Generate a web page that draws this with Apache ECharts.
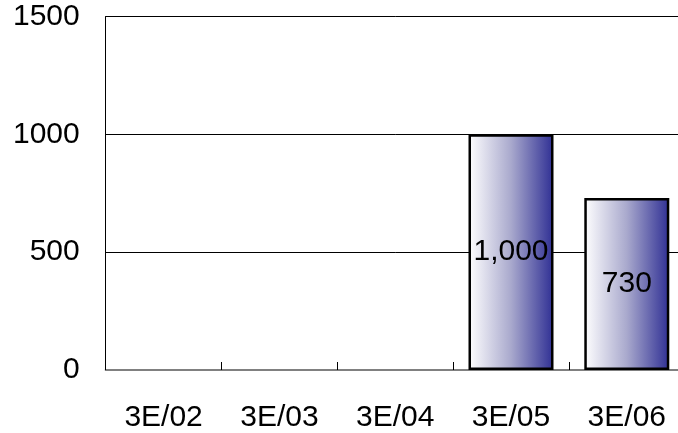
<!DOCTYPE html>
<html>
<head>
<meta charset="utf-8">
<script src="https://cdn.jsdelivr.net/npm/echarts@6/dist/echarts.min.js"></script>
<style>
html,body{margin:0;padding:0;background:#fff;overflow:hidden;width:678px;height:433px;}
#wrap{width:678px;height:433px;overflow:hidden;position:relative;}
#chart{width:690px;height:433px;position:absolute;left:0;top:0;}
</style>
</head>
<body>
<div id="wrap"><div id="chart"></div></div>
<script>
const categories = ['3E/02', '3E/03', '3E/04', '3E/05', '3E/06'];
const values = [null, null, null, 1000, 730];
const yTicks = [0, 500, 1000, 1500];

const chart = echarts.init(document.getElementById('chart'), null, {renderer: 'canvas'});
const FONT = '"Liberation Sans", Arial, sans-serif';
chart.setOption({
  animation: false,
  backgroundColor: '#ffffff',
  grid: {left: 105.7, right: 5.3, top: 16.5, bottom: 60.3, containLabel: false},
  xAxis: {
    type: 'category',
    data: categories,
    boundaryGap: true,
    axisLine: {show: true, lineStyle: {color: '#808080', width: 2}},
    axisTick: {show: true, inside: true, length: 8, lineStyle: {color: '#000', width: 1}},
    axisLabel: {fontFamily: FONT, fontSize: 30, color: '#000', margin: 33}
  },
  yAxis: {
    type: 'value',
    min: yTicks[0],
    max: yTicks[yTicks.length - 1],
    interval: yTicks[1] - yTicks[0],
    axisLine: {show: true, lineStyle: {color: '#000', width: 1}},
    axisTick: {show: false},
    splitLine: {show: true, lineStyle: {color: '#000', width: 1}},
    axisLabel: {fontFamily: FONT, fontSize: 30, color: '#000', margin: 26, formatter: v => String(v)}
  },
  series: [{
    type: 'bar',
    data: values,
    barWidth: 85,
    itemStyle: {
      color: new echarts.graphic.LinearGradient(0, 0, 1, 0, [
        {offset: 0, color: '#ffffff'},
        {offset: 0.5, color: '#a9a9cd'},
        {offset: 1, color: '#2f2f94'}
      ]),
      borderColor: '#000',
      borderWidth: 2.5
    },
    label: {
      show: true,
      position: 'inside',
      fontFamily: FONT,
      fontSize: 30,
      color: '#000',
      formatter: p => p.value == null ? '' : p.value.toLocaleString('en-US')
    }
  }]
});
</script>
</body>
</html>
